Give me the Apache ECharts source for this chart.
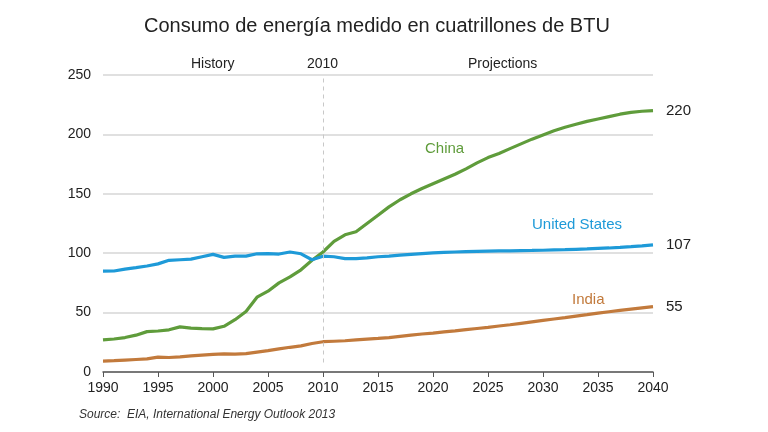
<!DOCTYPE html>
<html>
<head>
<meta charset="utf-8">
<script src="https://cdn.jsdelivr.net/npm/echarts@6/dist/echarts.min.js"></script>
<style>
html,body{margin:0;padding:0;background:#fff;}
#c{width:768px;height:432px;}
</style>
</head>
<body>
<div id="c"></div>
<script>
const years = [];
for (let y = 1990; y <= 2040; y++) years.push(y);

const china = [27, 27.8, 29, 31, 34, 34.5, 35.5, 38, 37, 36.5,
  36.3, 38.5, 44, 51, 63, 68, 75, 80, 86, 94,
  101, 110, 115.5, 118, 125, 132, 139, 145, 150, 154.5,
  158.5, 162.5, 166.5, 171, 176, 180.5, 184, 188, 192, 196,
  199.5, 203, 206, 208.5, 211, 213, 215, 217, 218.5, 219.5,
  220];
const unitedStates = [84.9, 85, 86.6, 87.8, 89.2, 91, 94, 94.5, 95, 97,
  99, 96.5, 97.5, 97.5, 99.5, 99.7, 99.3, 101, 99.5, 94.5,
  97.5, 97, 95.5, 95.5, 96, 97, 97.6, 98.3, 99, 99.7,
  100.3, 100.7, 101, 101.3, 101.6, 101.8, 102, 102, 102.2, 102.3,
  102.5, 102.8, 103, 103.3, 103.6, 104, 104.4, 104.9, 105.5, 106.2,
  107];
const india = [9.2, 9.5, 10, 10.5, 11, 12.5, 12.2, 12.8, 13.5, 14.2,
  14.8, 15.2, 15, 15.5, 16.8, 18, 19.5, 20.8, 22, 24,
  25.5, 25.9, 26.3, 27, 27.7, 28.3, 29, 30, 31, 32,
  32.8, 33.7, 34.6, 35.6, 36.6, 37.6, 38.7, 39.8, 41, 42.2,
  43.4, 44.6, 45.8, 47.1, 48.3, 49.6, 50.7, 51.8, 52.9, 54,
  55];
const yTicks = [0, 50, 100, 150, 200, 250];
const title = 'Consumo de energía medido en cuatrillones de BTU';
const source = 'Source:  EIA, International Energy Outlook 2013';

const pair = arr => years.map((y, i) => [y, arr[i]]);
const FONT = '"Liberation Sans", Arial, sans-serif';

const chart = echarts.init(document.getElementById('c'), null, {renderer: 'canvas'});

function mkSeries(name, data, color, withMark) {
  const s = {
    name, type: 'line', data: pair(data), showSymbol: false, symbol: 'none',
    lineStyle: {width: 3.2, color}, itemStyle: {color},
    endLabel: {show: true, formatter: p => String(Math.round(p.value[1])),
      color: '#222', fontSize: 15, fontFamily: FONT, distance: 13},
    z: 3, animation: false
  };
  if (withMark) {
    s.markLine = {
      silent: true, symbol: 'none', animation: false,
      lineStyle: {type: [4, 4], color: '#c8c8c8', width: 1},
      label: {show: false},
      data: [[{coord: [2010, 8]}, {coord: [2010, 250]}]]
    };
  }
  return s;
}

chart.setOption({
  backgroundColor: '#fff',
  animation: false,
  title: {
    text: title, left: 139, top: 11,
    textStyle: {fontFamily: FONT, fontSize: 20, fontWeight: 'normal', color: '#222'}
  },
  grid: {left: 103, right: 115, top: 75, bottom: 60},
  xAxis: {
    type: 'value', min: 1990, max: 2040, interval: 5,
    axisLine: {show: true, lineStyle: {color: '#555', width: 1.5}},
    axisTick: {show: true, inside: false, length: 5, lineStyle: {color: '#555'}},
    axisLabel: {color: '#222', fontSize: 14, fontFamily: FONT, margin: 9, formatter: v => String(v)},
    splitLine: {show: false}
  },
  yAxis: {
    type: 'value', min: 0, max: 250, interval: 50,
    axisLine: {show: false}, axisTick: {show: false},
    axisLabel: {color: '#222', fontSize: 14, fontFamily: FONT, margin: 12,
      formatter: v => yTicks.includes(v) ? String(v) : ''},
    splitLine: {show: true, lineStyle: {color: '#d6d6d6', width: 1.5}}
  },
  series: [
    mkSeries('China', china, '#5f9c3b', true),
    mkSeries('United States', unitedStates, '#1e9ad8', false),
    mkSeries('India', india, '#c27a3c', false)
  ],
  graphic: [
    {type: 'text', left: 191, top: 57, style: {text: 'History', fontSize: 14, fontFamily: FONT, fill: '#222'}},
    {type: 'text', left: 307, top: 57, style: {text: '2010', fontSize: 14, fontFamily: FONT, fill: '#222'}},
    {type: 'text', left: 468, top: 57, style: {text: 'Projections', fontSize: 14, fontFamily: FONT, fill: '#222'}},
    {type: 'text', left: 425, top: 141, style: {text: 'China', fontSize: 15, fontFamily: FONT, fill: '#5f9c3b'}},
    {type: 'text', left: 532, top: 217, style: {text: 'United States', fontSize: 15, fontFamily: FONT, fill: '#1e9ad8'}},
    {type: 'text', left: 572, top: 292, style: {text: 'India', fontSize: 15, fontFamily: FONT, fill: '#c27a3c'}},
    {type: 'text', left: 79, top: 409, style: {text: source, fontSize: 12, fontStyle: 'italic', fontFamily: FONT, fill: '#333'}}
  ]
});
</script>
</body>
</html>
